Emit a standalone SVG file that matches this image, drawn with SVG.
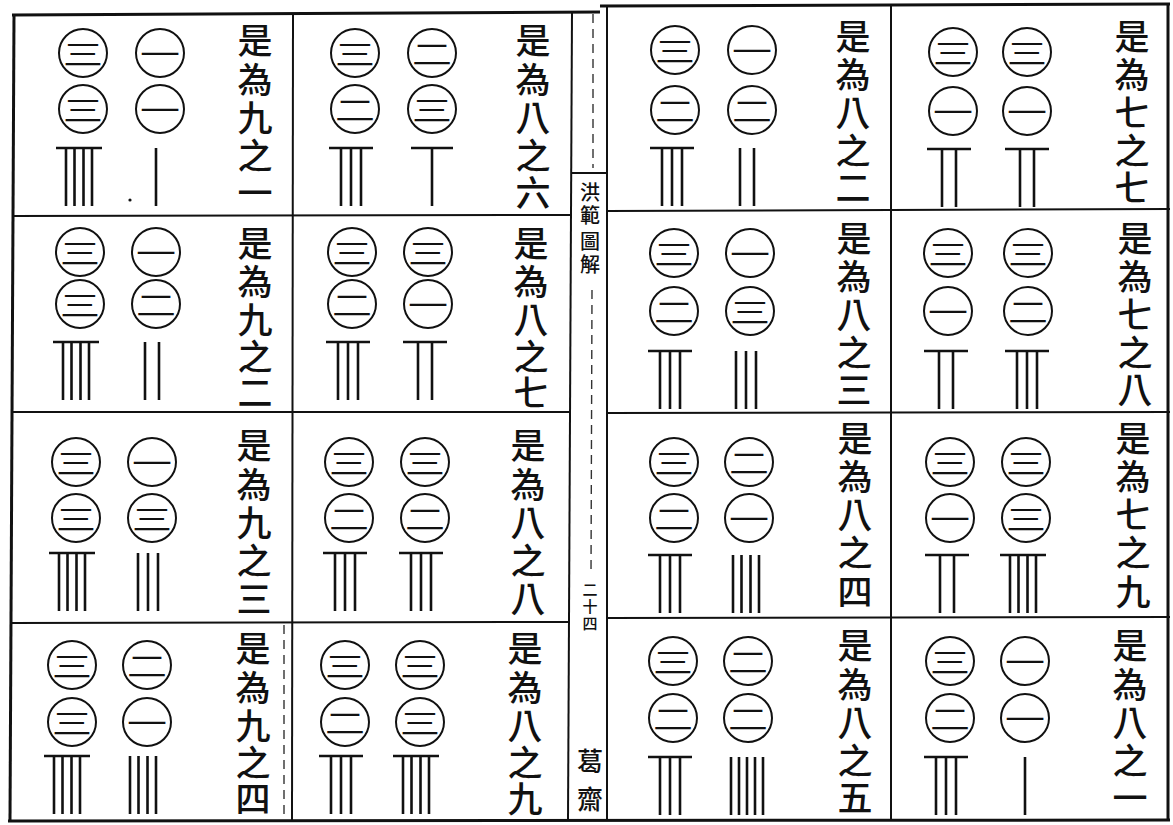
<svg xmlns="http://www.w3.org/2000/svg" xmlns:xlink="http://www.w3.org/1999/xlink" width="1173" height="825" viewBox="0 0 1173 825">
<style>
.ln{stroke:#111;stroke-width:2;fill:none}
.tk{stroke:#111;stroke-width:3;fill:none}
.dash{stroke:#333;stroke-width:1.4;fill:none;stroke-dasharray:9 6}
.num circle{fill:none;stroke:#111;stroke-width:2}
.num text{font-family:'Noto Sans CJK TC','Noto Sans CJK SC',sans-serif;font-size:40px;text-anchor:middle;dominant-baseline:central;fill:#111}
.lab{font-family:'Noto Sans CJK TC','Noto Sans CJK SC',sans-serif;font-size:35px;font-weight:500;text-anchor:middle;dominant-baseline:central;fill:#111}
.mid{font-family:'Noto Sans CJK TC','Noto Sans CJK SC',sans-serif;font-weight:500;text-anchor:middle;dominant-baseline:central;fill:#111}
.rod line{stroke:#111;stroke-width:2.6}
</style>
<defs>
<g id="r1" class="rod"><line x1="0" y1="0" x2="0" y2="58"/></g>
<g id="r2" class="rod"><line x1="-7" y1="0" x2="-7" y2="58"/><line x1="7" y1="0" x2="7" y2="58"/></g>
<g id="r3" class="rod"><line x1="-10" y1="0" x2="-10" y2="58"/><line x1="0" y1="0" x2="0" y2="58"/><line x1="10" y1="0" x2="10" y2="58"/></g>
<g id="r4" class="rod"><line x1="-13" y1="0" x2="-13" y2="58"/><line x1="-4.5" y1="0" x2="-4.5" y2="58"/><line x1="4.5" y1="0" x2="4.5" y2="58"/><line x1="13" y1="0" x2="13" y2="58"/></g>
<g id="r5" class="rod"><line x1="-16" y1="0" x2="-16" y2="58"/><line x1="-8" y1="0" x2="-8" y2="58"/><line x1="0" y1="0" x2="0" y2="58"/><line x1="8" y1="0" x2="8" y2="58"/><line x1="16" y1="0" x2="16" y2="58"/></g>
<g id="t6" class="rod"><line x1="-21" y1="0" x2="21" y2="0"/><line x1="0" y1="0" x2="0" y2="58"/></g>
<g id="t7" class="rod"><line x1="-22" y1="0" x2="22" y2="0"/><line x1="-7" y1="0" x2="-7" y2="58"/><line x1="7" y1="0" x2="7" y2="58"/></g>
<g id="t8" class="rod"><line x1="-22" y1="0" x2="22" y2="0"/><line x1="-10" y1="0" x2="-10" y2="58"/><line x1="0" y1="0" x2="0" y2="58"/><line x1="10" y1="0" x2="10" y2="58"/></g>
<g id="t9" class="rod"><line x1="-23" y1="0" x2="23" y2="0"/><line x1="-13" y1="0" x2="-13" y2="58"/><line x1="-4.5" y1="0" x2="-4.5" y2="58"/><line x1="4.5" y1="0" x2="4.5" y2="58"/><line x1="13" y1="0" x2="13" y2="58"/></g>
</defs>
<rect x="0" y="0" width="1173" height="825" fill="#fff"/>

<g id="frame">
<line class="tk" x1="12" y1="15" x2="600" y2="12"/>
<line class="tk" x1="600" y1="6" x2="1170" y2="4"/>
<line class="tk" x1="8" y1="821" x2="1170" y2="820"/>
<line class="tk" x1="14" y1="14" x2="10" y2="821"/>
<line class="tk" x1="1168" y1="4" x2="1168" y2="821"/>
<line class="ln" x1="293" y1="14" x2="292" y2="821"/>
<line class="ln" x1="572" y1="12" x2="568" y2="821"/>
<line class="ln" x1="607" y1="5" x2="607" y2="821"/>
<line class="ln" x1="891" y1="5" x2="891" y2="821"/>
<line class="ln" x1="12" y1="216" x2="570" y2="215"/>
<line class="ln" x1="11" y1="412" x2="570" y2="412"/>
<line class="ln" x1="10" y1="623" x2="569" y2="622"/>
<line class="ln" x1="607" y1="211" x2="1170" y2="209"/>
<line class="ln" x1="607" y1="413" x2="1170" y2="412"/>
<line class="ln" x1="607" y1="618" x2="1170" y2="617"/>
<line class="ln" x1="572" y1="173" x2="607" y2="173"/>
<line class="dash" x1="593" y1="14" x2="593" y2="168"/>
<line class="dash" x1="592" y1="290" x2="591" y2="575"/>
<line class="dash" x1="284" y1="625" x2="284" y2="815"/>
<circle cx="130" cy="200" r="1.6" fill="#111"/>
</g>

<g id="center">
<text class="mid" font-size="20"><tspan x="590" y="191">洪</tspan><tspan x="590" y="214">範</tspan><tspan x="590" y="240">圖</tspan><tspan x="590" y="263">解</tspan></text>
<text class="mid" font-size="15"><tspan x="590" y="588">二</tspan><tspan x="590" y="605">十</tspan><tspan x="590" y="622">四</tspan></text>
<text class="mid" font-size="26"><tspan x="590" y="759">葛</tspan><tspan x="590" y="797">齋</tspan></text>
</g>

<g id="cell-9-1">
<text class="lab"><tspan x="255" y="38">是</tspan><tspan x="255" y="77">為</tspan><tspan x="255" y="115">九</tspan><tspan x="255" y="153">之</tspan><tspan x="255" y="190">一</tspan></text>
<g class="num" transform="translate(83,53)"><circle r="24"/><text transform="scale(1,0.7)">三</text></g>
<g class="num" transform="translate(83,109)"><circle r="24"/><text transform="scale(1,0.7)">三</text></g>
<use href="#t9" x="79" y="148"/>
<g class="num" transform="translate(160,53)"><circle r="24"/><text transform="scale(1,0.7)">一</text></g>
<g class="num" transform="translate(160,109)"><circle r="24"/><text transform="scale(1,0.7)">一</text></g>
<use href="#r1" x="156" y="148"/>
</g>
<g id="cell-9-2">
<text class="lab"><tspan x="255" y="241">是</tspan><tspan x="255" y="279">為</tspan><tspan x="255" y="317">九</tspan><tspan x="255" y="354">之</tspan><tspan x="255" y="390">二</tspan></text>
<g class="num" transform="translate(80,252)"><circle r="24"/><text transform="scale(1,0.7)">三</text></g>
<g class="num" transform="translate(80,304)"><circle r="24"/><text transform="scale(1,0.7)">三</text></g>
<use href="#t9" x="76" y="342"/>
<g class="num" transform="translate(156,252)"><circle r="24"/><text transform="scale(1,0.7)">一</text></g>
<g class="num" transform="translate(156,304)"><circle r="24"/><text transform="scale(1,0.7)">二</text></g>
<use href="#r2" x="152" y="342"/>
</g>
<g id="cell-9-3">
<text class="lab"><tspan x="254" y="443">是</tspan><tspan x="254" y="482">為</tspan><tspan x="254" y="520">九</tspan><tspan x="254" y="558">之</tspan><tspan x="254" y="596">三</tspan></text>
<g class="num" transform="translate(76,462)"><circle r="24"/><text transform="scale(1,0.7)">三</text></g>
<g class="num" transform="translate(76,518)"><circle r="24"/><text transform="scale(1,0.7)">三</text></g>
<use href="#t9" x="72" y="553"/>
<g class="num" transform="translate(152,462)"><circle r="24"/><text transform="scale(1,0.7)">一</text></g>
<g class="num" transform="translate(152,518)"><circle r="24"/><text transform="scale(1,0.7)">三</text></g>
<use href="#r3" x="148" y="553"/>
</g>
<g id="cell-9-4">
<text class="lab"><tspan x="253" y="646">是</tspan><tspan x="253" y="685">為</tspan><tspan x="253" y="723">九</tspan><tspan x="253" y="760">之</tspan><tspan x="253" y="796">四</tspan></text>
<g class="num" transform="translate(72,665)"><circle r="24"/><text transform="scale(1,0.7)">三</text></g>
<g class="num" transform="translate(72,722)"><circle r="24"/><text transform="scale(1,0.7)">三</text></g>
<use href="#t9" x="67" y="756"/>
<g class="num" transform="translate(147,665)"><circle r="24"/><text transform="scale(1,0.7)">二</text></g>
<g class="num" transform="translate(147,722)"><circle r="24"/><text transform="scale(1,0.7)">一</text></g>
<use href="#r4" x="143" y="756"/>
</g>

<g id="cell-8-6">
<text class="lab"><tspan x="533" y="38">是</tspan><tspan x="533" y="77">為</tspan><tspan x="533" y="115">八</tspan><tspan x="533" y="153">之</tspan><tspan x="533" y="190">六</tspan></text>
<g class="num" transform="translate(355,53)"><circle r="24"/><text transform="scale(1,0.7)">三</text></g>
<g class="num" transform="translate(355,109)"><circle r="24"/><text transform="scale(1,0.7)">二</text></g>
<use href="#t8" x="351" y="148"/>
<g class="num" transform="translate(432,53)"><circle r="24"/><text transform="scale(1,0.7)">二</text></g>
<g class="num" transform="translate(432,109)"><circle r="24"/><text transform="scale(1,0.7)">三</text></g>
<use href="#t6" x="432" y="148"/>
</g>
<g id="cell-8-7">
<text class="lab"><tspan x="531" y="241">是</tspan><tspan x="531" y="279">為</tspan><tspan x="531" y="317">八</tspan><tspan x="531" y="354">之</tspan><tspan x="531" y="390">七</tspan></text>
<g class="num" transform="translate(352,252)"><circle r="24"/><text transform="scale(1,0.7)">三</text></g>
<g class="num" transform="translate(352,304)"><circle r="24"/><text transform="scale(1,0.7)">二</text></g>
<use href="#t8" x="348" y="342"/>
<g class="num" transform="translate(428,252)"><circle r="24"/><text transform="scale(1,0.7)">三</text></g>
<g class="num" transform="translate(428,304)"><circle r="24"/><text transform="scale(1,0.7)">一</text></g>
<use href="#t7" x="425" y="342"/>
</g>
<g id="cell-8-8">
<text class="lab"><tspan x="528" y="443">是</tspan><tspan x="528" y="482">為</tspan><tspan x="528" y="520">八</tspan><tspan x="528" y="558">之</tspan><tspan x="528" y="596">八</tspan></text>
<g class="num" transform="translate(349,462)"><circle r="24"/><text transform="scale(1,0.7)">三</text></g>
<g class="num" transform="translate(349,518)"><circle r="24"/><text transform="scale(1,0.7)">二</text></g>
<use href="#t8" x="345" y="553"/>
<g class="num" transform="translate(425,462)"><circle r="24"/><text transform="scale(1,0.7)">三</text></g>
<g class="num" transform="translate(425,518)"><circle r="24"/><text transform="scale(1,0.7)">二</text></g>
<use href="#t8" x="421" y="553"/>
</g>
<g id="cell-8-9">
<text class="lab"><tspan x="525" y="646">是</tspan><tspan x="525" y="685">為</tspan><tspan x="525" y="723">八</tspan><tspan x="525" y="760">之</tspan><tspan x="525" y="796">九</tspan></text>
<g class="num" transform="translate(345,665)"><circle r="24"/><text transform="scale(1,0.7)">三</text></g>
<g class="num" transform="translate(345,722)"><circle r="24"/><text transform="scale(1,0.7)">二</text></g>
<use href="#t8" x="341" y="756"/>
<g class="num" transform="translate(420,665)"><circle r="24"/><text transform="scale(1,0.7)">三</text></g>
<g class="num" transform="translate(420,722)"><circle r="24"/><text transform="scale(1,0.7)">三</text></g>
<use href="#t9" x="416" y="756"/>
</g>

<g id="cell-8-2">
<text class="lab"><tspan x="853" y="34">是</tspan><tspan x="853" y="72">為</tspan><tspan x="853" y="110">八</tspan><tspan x="853" y="148">之</tspan><tspan x="853" y="185">二</tspan></text>
<g class="num" transform="translate(675,50)"><circle r="24"/><text transform="scale(1,0.7)">三</text></g>
<g class="num" transform="translate(675,110)"><circle r="24"/><text transform="scale(1,0.7)">二</text></g>
<use href="#t8" x="672" y="148"/>
<g class="num" transform="translate(752,50)"><circle r="24"/><text transform="scale(1,0.7)">一</text></g>
<g class="num" transform="translate(752,110)"><circle r="24"/><text transform="scale(1,0.7)">二</text></g>
<use href="#r2" x="747" y="148"/>
</g>
<g id="cell-8-3">
<text class="lab"><tspan x="854" y="236">是</tspan><tspan x="854" y="274">為</tspan><tspan x="854" y="312">八</tspan><tspan x="854" y="350">之</tspan><tspan x="854" y="387">三</tspan></text>
<g class="num" transform="translate(674,253)"><circle r="24"/><text transform="scale(1,0.7)">三</text></g>
<g class="num" transform="translate(674,311)"><circle r="24"/><text transform="scale(1,0.7)">二</text></g>
<use href="#t8" x="670" y="351"/>
<g class="num" transform="translate(750,253)"><circle r="24"/><text transform="scale(1,0.7)">一</text></g>
<g class="num" transform="translate(750,311)"><circle r="24"/><text transform="scale(1,0.7)">三</text></g>
<use href="#r3" x="746" y="351"/>
</g>
<g id="cell-8-4">
<text class="lab"><tspan x="855" y="436">是</tspan><tspan x="855" y="474">為</tspan><tspan x="855" y="512">八</tspan><tspan x="855" y="550">之</tspan><tspan x="855" y="589">四</tspan></text>
<g class="num" transform="translate(674,462)"><circle r="24"/><text transform="scale(1,0.7)">三</text></g>
<g class="num" transform="translate(674,518)"><circle r="24"/><text transform="scale(1,0.7)">二</text></g>
<use href="#t8" x="670" y="555"/>
<g class="num" transform="translate(749,462)"><circle r="24"/><text transform="scale(1,0.7)">二</text></g>
<g class="num" transform="translate(749,518)"><circle r="24"/><text transform="scale(1,0.7)">一</text></g>
<use href="#r4" x="746" y="555"/>
</g>
<g id="cell-8-5">
<text class="lab"><tspan x="855" y="643">是</tspan><tspan x="855" y="682">為</tspan><tspan x="855" y="720">八</tspan><tspan x="855" y="758">之</tspan><tspan x="855" y="795">五</tspan></text>
<g class="num" transform="translate(673,661)"><circle r="24"/><text transform="scale(1,0.7)">三</text></g>
<g class="num" transform="translate(673,718)"><circle r="24"/><text transform="scale(1,0.7)">二</text></g>
<use href="#t8" x="670" y="757"/>
<g class="num" transform="translate(748,661)"><circle r="24"/><text transform="scale(1,0.7)">二</text></g>
<g class="num" transform="translate(748,718)"><circle r="24"/><text transform="scale(1,0.7)">二</text></g>
<use href="#r5" x="747" y="757"/>
</g>

<g id="cell-7-7">
<text class="lab"><tspan x="1132" y="34">是</tspan><tspan x="1132" y="72">為</tspan><tspan x="1132" y="110">七</tspan><tspan x="1132" y="148">之</tspan><tspan x="1132" y="185">七</tspan></text>
<g class="num" transform="translate(953,52)"><circle r="24"/><text transform="scale(1,0.7)">三</text></g>
<g class="num" transform="translate(953,111)"><circle r="24"/><text transform="scale(1,0.7)">一</text></g>
<use href="#t7" x="949" y="149"/>
<g class="num" transform="translate(1027,52)"><circle r="24"/><text transform="scale(1,0.7)">三</text></g>
<g class="num" transform="translate(1027,111)"><circle r="24"/><text transform="scale(1,0.7)">一</text></g>
<use href="#t7" x="1027" y="149"/>
</g>
<g id="cell-7-8">
<text class="lab"><tspan x="1135" y="236">是</tspan><tspan x="1135" y="274">為</tspan><tspan x="1135" y="312">七</tspan><tspan x="1135" y="350">之</tspan><tspan x="1135" y="387">八</tspan></text>
<g class="num" transform="translate(948,253)"><circle r="24"/><text transform="scale(1,0.7)">三</text></g>
<g class="num" transform="translate(948,311)"><circle r="24"/><text transform="scale(1,0.7)">一</text></g>
<use href="#t7" x="946" y="351"/>
<g class="num" transform="translate(1028,253)"><circle r="24"/><text transform="scale(1,0.7)">三</text></g>
<g class="num" transform="translate(1028,311)"><circle r="24"/><text transform="scale(1,0.7)">二</text></g>
<use href="#t8" x="1027" y="351"/>
</g>
<g id="cell-7-9">
<text class="lab"><tspan x="1133" y="436">是</tspan><tspan x="1133" y="474">為</tspan><tspan x="1133" y="512">七</tspan><tspan x="1133" y="550">之</tspan><tspan x="1133" y="589">九</tspan></text>
<g class="num" transform="translate(950,462)"><circle r="24"/><text transform="scale(1,0.7)">三</text></g>
<g class="num" transform="translate(950,518)"><circle r="24"/><text transform="scale(1,0.7)">一</text></g>
<use href="#t7" x="947" y="555"/>
<g class="num" transform="translate(1026,462)"><circle r="24"/><text transform="scale(1,0.7)">三</text></g>
<g class="num" transform="translate(1026,518)"><circle r="24"/><text transform="scale(1,0.7)">三</text></g>
<use href="#t9" x="1023" y="555"/>
</g>
<g id="cell-8-1">
<text class="lab"><tspan x="1130" y="643">是</tspan><tspan x="1130" y="682">為</tspan><tspan x="1130" y="720">八</tspan><tspan x="1130" y="758">之</tspan><tspan x="1130" y="795">一</tspan></text>
<g class="num" transform="translate(950,661)"><circle r="24"/><text transform="scale(1,0.7)">三</text></g>
<g class="num" transform="translate(950,718)"><circle r="24"/><text transform="scale(1,0.7)">二</text></g>
<use href="#t8" x="946" y="757"/>
<g class="num" transform="translate(1025,661)"><circle r="24"/><text transform="scale(1,0.7)">一</text></g>
<g class="num" transform="translate(1025,718)"><circle r="24"/><text transform="scale(1,0.7)">一</text></g>
<use href="#r1" x="1025" y="757"/>
</g>
</svg>
